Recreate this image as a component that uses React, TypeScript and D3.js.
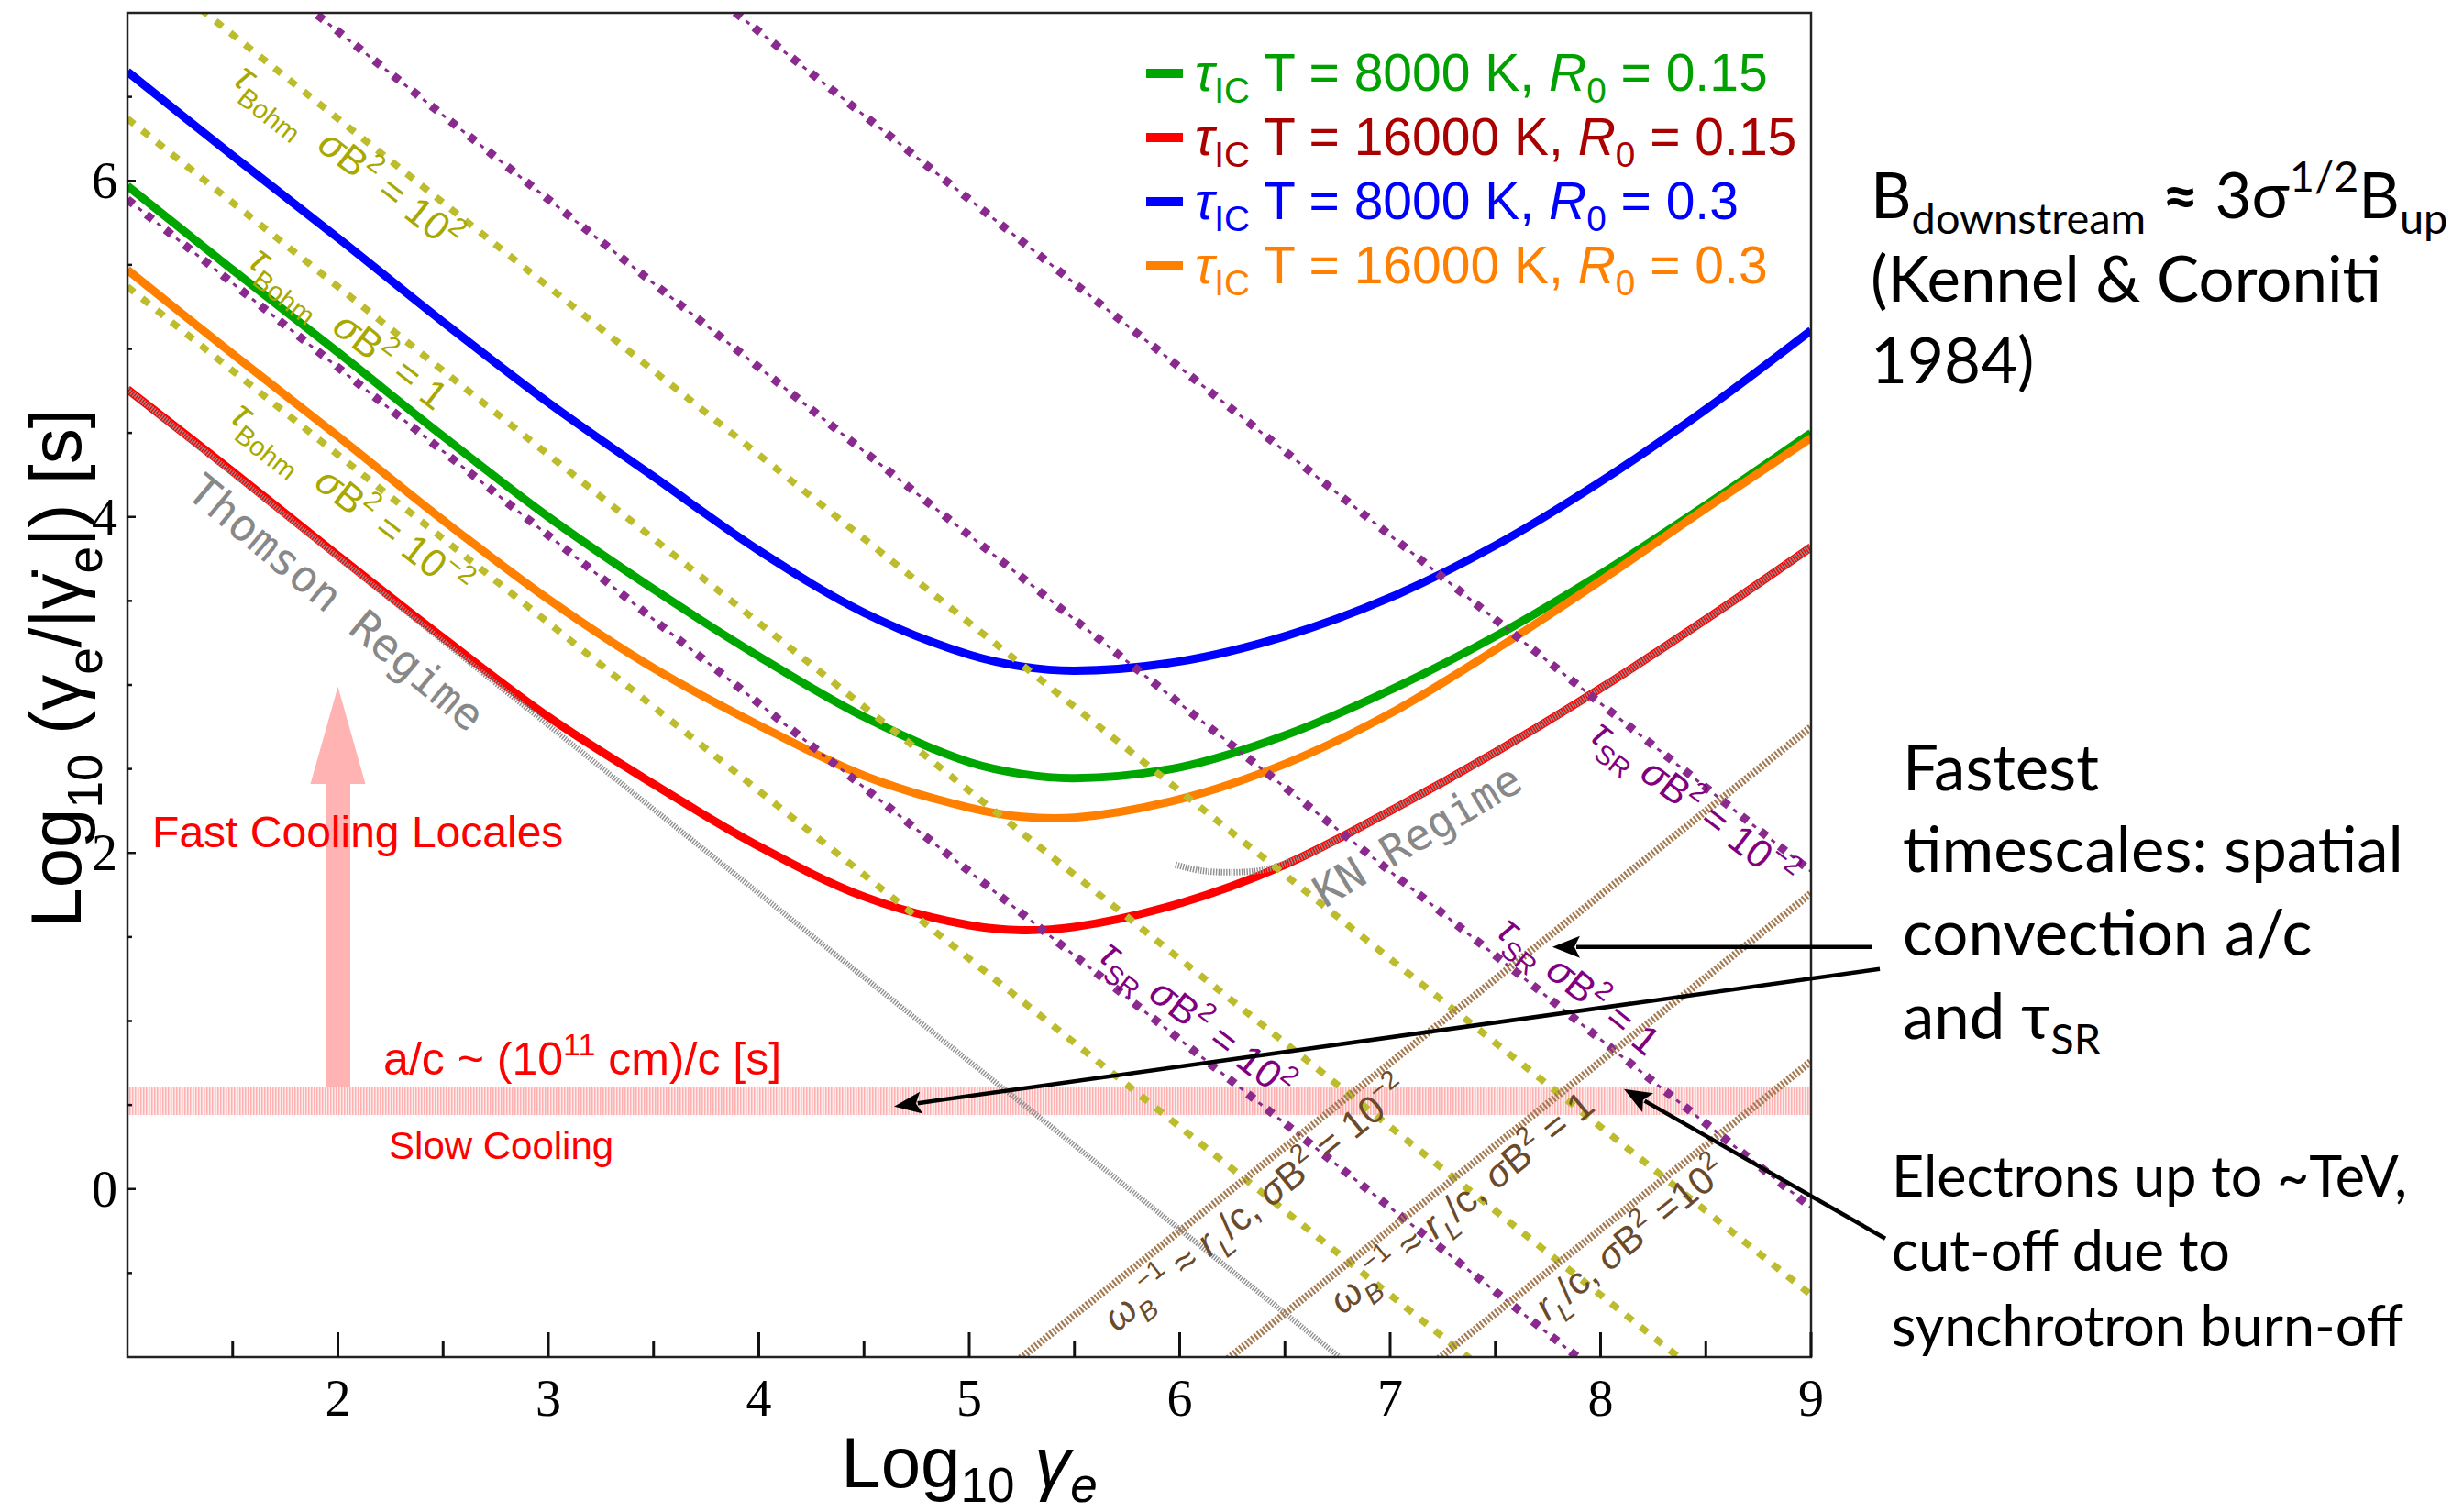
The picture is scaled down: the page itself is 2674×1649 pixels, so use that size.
import React from "react";
import * as d3 from "d3";

const W = 2674;
const H = 1649;

// ---------- data (log10 values) ----------
const logGamma = [1, 1.5, 2, 2.5, 3, 3.5, 4, 4.5, 5, 5.25, 5.5, 6, 6.5, 7, 7.5, 8, 8.5, 9];
const tauGreen = [5.97, 5.47, 4.98, 4.48, 4.0, 3.57, 3.17, 2.81, 2.54, 2.47, 2.445, 2.51, 2.7, 2.97, 3.29, 3.66, 4.07, 4.5];
const tauRed = [4.76, 4.27, 3.77, 3.28, 2.81, 2.41, 2.04, 1.74, 1.57, 1.54, 1.56, 1.7, 1.93, 2.25, 2.6, 2.98, 3.39, 3.82];
const tauBlue = [6.65, 6.15, 5.66, 5.16, 4.68, 4.24, 3.8, 3.43, 3.18, 3.11, 3.085, 3.14, 3.29, 3.52, 3.83, 4.21, 4.64, 5.11];
const tauOrange = [5.47, 4.97, 4.48, 3.98, 3.51, 3.1, 2.76, 2.46, 2.27, 2.215, 2.21, 2.32, 2.53, 2.83, 3.21, 3.62, 4.05, 4.47];

const knGamma = [5.98, 6.1, 6.25, 6.4, 6.55, 7, 7.5, 8, 8.5, 9];
const knTau = [1.93, 1.895, 1.885, 1.9, 1.96, 2.25, 2.6, 2.98, 3.39, 3.82];

const thomsonGamma = [1, 6.76];
const thomsonTau = [4.76, -1];

const edgeGamma = [1, 9];
const bohm1e2 = [7.37, -0.63];
const bohm1 = [6.37, -1.63];
const bohm1em2 = [5.37, -2.63];
const sr1em2 = [9.89, 1.89];
const sr1 = [7.89, -0.11];
const sr1e2 = [5.89, -2.11];

const larmorGamma = [5, 9];
const larmor1em2 = [-1.25, 2.75];
const larmor1 = [-2.24, 1.76];
const larmor1e2 = [-3.24, 0.76];

const acBand = [0.44, 0.61];
const fastArrow = [0.61, 2.41, 2.99]; // shaft base, head base, tip (log tau) at log gamma = 2
const fastArrowGamma = 2;

const xTicksMajor = [2, 3, 4, 5, 6, 7, 8, 9];
const xTicksMinor = [1.5, 2.5, 3.5, 4.5, 5.5, 6.5, 7.5, 8.5];
const yTicksMajor = [0, 2, 4, 6];
const yTicksMinor = [-0.5, 0.5, 1, 1.5, 2.5, 3, 3.5, 4.5, 5, 5.5, 6.5];

const legendTemps = ["8000", "16000", "8000", "16000"];
const legendR0 = ["0.15", "0.15", "0.3", "0.3"];

// annotation arrows [tailX, tailY, tipX, tipY] in data units
const arrows = [
  [9.288, 1.441, 7.771, 1.441],
  [9.327, 1.31, 4.643, 0.491],
  [9.353, -0.295, 8.111, 0.595],
];

// ---------- layout ----------
const M = { left: 139, right: 1975, top: 14, bottom: 1480 };
const x = d3.scaleLinear().domain([1, 9]).range([M.left, M.right]);
const y = d3.scaleLinear().domain([-1, 7]).range([M.bottom, M.top]);

type Seg = [string, string?];

function Rich({ segs, fs, sub = 0.3, ...rest }: any) {
  let cur = 0;
  return (
    <text fontSize={fs} style={{ whiteSpace: "pre" }} {...rest}>
      {segs.map((sg: Seg, i: number) => {
        const t = sg[0];
        const s = sg[1] || "";
        const isSub = s.startsWith("sub");
        const isSup = s.startsWith("sup");
        const target = isSub ? sub * fs : isSup ? -0.42 * fs : 0;
        const dy = target - cur;
        cur = target;
        return (
          <tspan
            key={i}
            dy={dy}
            fontSize={isSub || isSup ? fs * 0.68 : fs}
            fontStyle={s === "i" || s === "subi" ? "italic" : "normal"}
            fontWeight={s === "b" ? "bold" : "normal"}
          >
            {t}
          </tspan>
        );
      })}
    </text>
  );
}

const line = d3
  .line<[number, number]>()
  .x((d) => x(d[0]))
  .y((d) => y(d[1]));
const smooth = d3
  .line<[number, number]>()
  .x((d) => x(d[0]))
  .y((d) => y(d[1]))
  .curve(d3.curveCatmullRom.alpha(0.5));

const zip = (a: number[], b: number[]) => a.map((v, i) => [v, b[i]] as [number, number]);

function Arrow({ a }: { a: number[] }) {
  const x1 = x(a[0]), y1 = y(a[1]), x2 = x(a[2]), y2 = y(a[3]);
  const ang = Math.atan2(y2 - y1, x2 - x1);
  const L = 30, hw = 12;
  const bx = x2 - L * Math.cos(ang), by = y2 - L * Math.sin(ang);
  const px = -Math.sin(ang) * hw, py = Math.cos(ang) * hw;
  return (
    <g>
      <line x1={x1} y1={y1} x2={bx + 4 * Math.cos(ang)} y2={by + 4 * Math.sin(ang)} stroke="#000" strokeWidth={4.5} />
      <polygon points={`${x2},${y2} ${bx + px},${by + py} ${bx + 6 * Math.cos(ang)},${by + 6 * Math.sin(ang)} ${bx - px},${by - py}`} fill="#000" />
    </g>
  );
}

function Label({ at, rot, segs, fs, fill, family }: any) {
  return (
    <g transform={`translate(${x(at[0])},${y(at[1])}) rotate(${rot})`}>
      <Rich segs={segs} fs={fs} fill={fill} fontFamily={family || "Liberation Sans"} />
    </g>
  );
}

export default function App() {
  const curves = [
    { d: tauBlue, c: "#0000ff" },
    { d: tauGreen, c: "#00a600" },
    { d: tauOrange, c: "#ff8000" },
    { d: tauRed, c: "#ff0000" },
  ];
  const legendColors = ["#00a600", "#ff0000", "#0000ff", "#ff8000"];
  const legendText = ["#00a000", "#aa0000", "#0000ff", "#ff8000"];
  const bohm = [bohm1e2, bohm1, bohm1em2];
  const sr = [sr1em2, sr1, sr1e2];
  const larmor = [larmor1em2, larmor1, larmor1e2];
  const xc = x(fastArrowGamma);

  const yellow = "#bcbc2c";
  const purple = "#8a2a8e";
  const brown = "#a57b53";

  return (
    <div style={{ position: "absolute", left: 0, top: 0 }}>
      <svg width={W} height={H} style={{ display: "block", background: "#fff" }}>
        <defs>
          <clipPath id="plotClip">
            <rect x={M.left} y={M.top} width={M.right - M.left} height={M.bottom - M.top} />
          </clipPath>
          <pattern id="pinkStripes" width="3" height="10" patternUnits="userSpaceOnUse">
            <rect width="3" height="10" fill="#ffeaea" />
            <rect width="1.5" height="10" fill="#ffb0b0" />
          </pattern>
        </defs>
        <rect width={W} height={H} fill="#fff" />

        {/* a/c band */}
        <rect
          x={M.left}
          y={y(acBand[1])}
          width={M.right - M.left}
          height={y(acBand[0]) - y(acBand[1])}
          fill="url(#pinkStripes)"
        />

        {/* pink arrow */}
        <polygon
          points={[
            [xc - 13.5, y(fastArrow[0])],
            [xc - 13.5, y(fastArrow[1])],
            [xc - 30, y(fastArrow[1])],
            [xc, y(fastArrow[2])],
            [xc + 30, y(fastArrow[1])],
            [xc + 13.5, y(fastArrow[1])],
            [xc + 13.5, y(fastArrow[0])],
          ]
            .map((p) => p.join(","))
            .join(" ")}
          fill="#ffb3b3"
        />

        <g clipPath="url(#plotClip)">
          {curves.map((cv, i) => (
            <path key={i} d={smooth(zip(logGamma, cv.d)) || ""} fill="none" stroke={cv.c} strokeWidth={9} />
          ))}
          <path d={line(zip(thomsonGamma, thomsonTau)) || ""} fill="none" stroke="#8f8f8f" strokeWidth={6} strokeDasharray="1.4 1.4" />
          <path d={smooth(zip(knGamma, knTau)) || ""} fill="none" stroke="#8f8f8f" strokeWidth={7} strokeDasharray="1.4 1.4" />

          {bohm.map((b, i) => (
            <path key={"b" + i} d={line(zip(edgeGamma, b)) || ""} fill="none" stroke={yellow} strokeWidth={7.5} strokeDasharray="9.5 11" />
          ))}
          {sr.map((b, i) => (
            <g key={"s" + i}>
              <path d={line(zip(edgeGamma, b)) || ""} fill="none" stroke={purple} strokeWidth={9} strokeDasharray="8.5 18" />
              <path d={line(zip(edgeGamma, b)) || ""} fill="none" stroke={purple} strokeWidth={3} strokeDasharray="5 21.5" strokeDashoffset={11.5} />
            </g>
          ))}
          {larmor.map((b, i) => (
            <path key={"l" + i} d={line(zip(larmorGamma, b)) || ""} fill="none" stroke={brown} strokeWidth={8} strokeDasharray="2.2 2" />
          ))}
        </g>

        {/* frame */}
        <rect x={M.left} y={M.top} width={M.right - M.left} height={M.bottom - M.top} fill="none" stroke="#222" strokeWidth={2.5} />
        {xTicksMajor.map((t) => (
          <line key={"xM" + t} x1={x(t)} x2={x(t)} y1={M.bottom} y2={M.bottom - 27} stroke="#111" strokeWidth={3} />
        ))}
        {xTicksMinor.map((t) => (
          <line key={"xm" + t} x1={x(t)} x2={x(t)} y1={M.bottom} y2={M.bottom - 18} stroke="#111" strokeWidth={3} />
        ))}
        {yTicksMajor.map((t) => (
          <line key={"yM" + t} x1={M.left} x2={M.left + 9} y1={y(t)} y2={y(t)} stroke="#111" strokeWidth={2.5} />
        ))}
        {yTicksMinor.map((t) => (
          <line key={"ym" + t} x1={M.left} x2={M.left + 5} y1={y(t)} y2={y(t)} stroke="#111" strokeWidth={2.5} />
        ))}
        {xTicksMajor.map((t) => (
          <text key={"xl" + t} x={x(t)} y={M.bottom + 64} fontSize={56} fontFamily="Liberation Serif" textAnchor="middle">
            {t}
          </text>
        ))}
        {yTicksMajor.map((t) => (
          <text key={"yl" + t} x={M.left - 11} y={y(t) + 19} fontSize={56} fontFamily="Liberation Serif" textAnchor="end">
            {t}
          </text>
        ))}

        {/* axis titles */}
        <g transform={`translate(${x(5)},1622)`}>
          <Rich
            segs={[["Log"], ["10", "sub"], [" "], ["γ", "i"], ["e", "subi"]]}
            fs={78}
            sub={0.2}
            fontFamily="Liberation Sans"
            textAnchor="middle"
            fill="#000"
          />
        </g>
        <g transform={`translate(88,${y(3.1)}) rotate(-90)`}>
          <Rich
            segs={[["Log"], ["10", "sub"], [" ("], ["γ"], ["e", "sub"], ["/|"], ["γ\u0307"], ["e", "sub"], ["|) [s]"]]}
            fs={78}
            fontFamily="Liberation Sans"
            textAnchor="middle"
            fill="#000"
          />
        </g>

        {/* legend */}
        {legendTemps.map((T, i) => (
          <g key={"lg" + i} transform={`translate(1250,${99 + i * 70})`}>
            <line x1={0} x2={40} y1={-19} y2={-19} stroke={legendColors[i]} strokeWidth={10} />
            <g transform="translate(53,0)">
              <Rich
                segs={[["τ", "i"], ["IC", "sub"], [` T = ${T} K, `], ["R", "i"], ["0", "sub"], [` = ${legendR0[i]}`]]}
                fs={57}
                sub={0.22}
                fill={legendText[i]}
                fontFamily="Liberation Sans"
              />
            </g>
          </g>
        ))}

        {/* line labels */}
        {[
          { at: [1.494, 6.585], e: [[" = 10"], ["2", "sup"]] },
          { at: [1.565, 5.5], e: [[" = 1"]] },
          { at: [1.479, 4.577], e: [[" = 10"], ["−2", "sup"]] },
        ].map((l, i) => (
          <Label
            key={"bl" + i}
            at={l.at}
            rot={38}
            fs={43}
            fill="#a8a800"
            segs={[["τ", "i"], ["Bohm", "sub"], ["  "], ["σ", "i"], ["B"], ["2", "sup"], ...l.e]}
          />
        ))}
        {[
          { at: [5.606, 1.37], e: [[" = 10"], ["2", "sup"]], r: 37.6 },
          { at: [7.497, 1.514], e: [[" = 1"]], r: 39 },
          { at: [7.94, 2.68], e: [[" = 10"], ["−2", "sup"]], r: 37.6 },
        ].map((l, i) => (
          <Label
            key={"sl" + i}
            at={l.at}
            rot={l.r}
            fs={43}
            fill="#800080"
            segs={[["τ", "i"], ["SR", "sub"], [" "], ["σ", "i"], ["B"], ["2", "sup"], ...l.e]}
          />
        ))}
        <Label
          at={[5.7, -0.857]}
          rot={-39}
          fs={42}
          fill="#6b4a2c"
          segs={[["ω", "i"], ["B", "subi"], ["−1", "sup"], [" ≈ "], ["r", "i"], ["L", "subi"], ["/c, "], ["σ", "i"], ["B"], ["2", "sup"], [" = 10"], ["−2", "sup"]]}
        />
        <Label
          at={[6.773, -0.753]}
          rot={-39}
          fs={42}
          fill="#6b4a2c"
          segs={[["ω", "i"], ["B", "subi"], ["−1", "sup"], [" ≈ "], ["r", "i"], ["L", "subi"], ["/c, "], ["σ", "i"], ["B"], ["2", "sup"], [" = 1"]]}
        />
        <Label
          at={[7.75, -0.79]}
          rot={-39}
          fs={42}
          fill="#6b4a2c"
          segs={[["r", "i"], ["L", "subi"], ["/c, "], ["σ", "i"], ["B"], ["2", "sup"], [" =10"], ["2", "sup"]]}
        />
        <Label at={[1.27, 4.13]} rot={40} fs={48} fill="#888" family="DejaVu Sans Mono" segs={[["Thomson Regime"]]} />
        <Label at={[6.69, 1.67]} rot={-31} fs={47} fill="#888" family="DejaVu Sans Mono" segs={[["KN Regime"]]} />

        {/* red annotations */}
        <text x={x(1.118)} y={y(2.036)} fontSize={48} fill="#ff0000" fontFamily="Liberation Sans">
          Fast Cooling Locales
        </text>
        <g transform={`translate(${x(2.216)},${y(0.68)})`}>
          <Rich segs={[["a/c ~ (10"], ["11", "sup"], [" cm)/c [s]"]]} fs={50} fill="#ff0000" fontFamily="Liberation Sans" />
        </g>
        <text x={x(2.242)} y={y(0.18)} fontSize={42} fill="#ff0000" fontFamily="Liberation Sans">
          Slow Cooling
        </text>

        {/* arrows */}
        {arrows.map((a, i) => (
          <Arrow key={"ar" + i} a={a} />
        ))}

        {/* right-side text */}
        <g fontFamily="Lato" fill="#000">
          <g transform="translate(2040,238)">
            <Rich segs={[["B"], ["downstream", "sub"], [" "], ["≈", "b"], [" 3σ"], ["1/2", "sup"], ["B"], ["up", "sub"]]} fs={69} sub={0.25} fontFamily="Lato" />
          </g>
          <text x={2040} y={329} fontSize={69}>(Kennel &amp; Coroniti</text>
          <text x={2040} y={418} fontSize={69}>1984)</text>

          <text x={2075} y={862} fontSize={69}>Fastest</text>
          <text x={2075} y={951} fontSize={69}>timescales: spatial</text>
          <text x={2075} y={1042} fontSize={69}>convection a/c</text>
          <g transform="translate(2075,1133)">
            <Rich segs={[["and τ"], ["SR", "sub"]]} fs={69} sub={0.25} fontFamily="Lato" />
          </g>

          <text x={2063} y={1305} fontSize={61}>Electrons up to ~TeV,</text>
          <text x={2063} y={1386} fontSize={61}>cut-off due to</text>
          <text x={2063} y={1468} fontSize={61}>synchrotron burn-off</text>
        </g>
      </svg>
    </div>
  );
}
